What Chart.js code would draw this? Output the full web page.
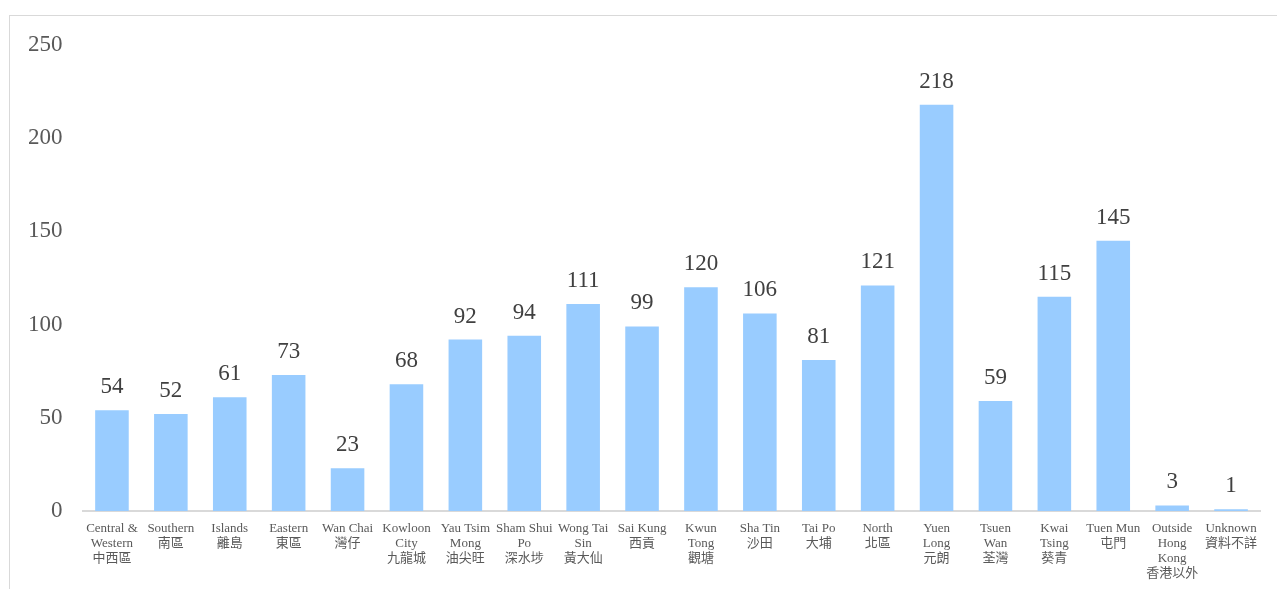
<!DOCTYPE html>
<html>
<head>
<meta charset="utf-8">
<script src="https://cdn.jsdelivr.net/npm/chart.js@4.4.1/dist/chart.umd.min.js"></script>
<style>
  html, body { margin: 0; padding: 0; background: #fff; overflow: hidden; }
  #frame { position: absolute; left: 9px; top: 15px; width: 1400px; height: 700px; border: 1px solid #d9d9d9; box-sizing: border-box; }
  #wrap { position: absolute; left: 0; top: 0; width: 1277px; height: 589px; }
</style>
</head>
<body>
<div id="frame"></div>
<div id="wrap"><canvas id="c" width="1277" height="589"></canvas></div>
<script>
const categoriesEn = [
  ["Central &", "Western"], ["Southern"], ["Islands"], ["Eastern"], ["Wan Chai"],
  ["Kowloon", "City"], ["Yau Tsim", "Mong"], ["Sham Shui", "Po"], ["Wong Tai", "Sin"], ["Sai Kung"],
  ["Kwun", "Tong"], ["Sha Tin"], ["Tai Po"], ["North"], ["Yuen", "Long"],
  ["Tsuen", "Wan"], ["Kwai", "Tsing"], ["Tuen Mun"], ["Outside", "Hong", "Kong"], ["Unknown"]
];
const categoriesZh = [
  "中西區", "南區", "離島", "東區", "灣仔",
  "九龍城", "油尖旺", "深水埗", "黃大仙", "西貢",
  "觀塘", "沙田", "大埔", "北區", "元朗",
  "荃灣", "葵青", "屯門", "香港以外", "資料不詳"
];
const cases = [54, 52, 61, 73, 23, 68, 92, 94, 111, 99, 120, 106, 81, 121, 218, 59, 115, 145, 3, 1];
const yTicks = [0, 50, 100, 150, 200, 250];

const labels = categoriesEn.map((en, i) => en.concat([categoriesZh[i]]));

const dataLabelPlugin = {
  id: 'dataLabels',
  afterDatasetsDraw(chart) {
    const ctx = chart.ctx;
    const meta = chart.getDatasetMeta(0);
    ctx.save();
    ctx.font = "23px 'Liberation Serif', 'Times New Roman', serif";
    ctx.fillStyle = '#404040';
    ctx.textAlign = 'center';
    ctx.textBaseline = 'alphabetic';
    meta.data.forEach((bar, i) => {
      ctx.fillText(String(cases[i]), bar.x, bar.y - 17);
    });
    ctx.restore();
  }
};

new Chart(document.getElementById('c'), {
  type: 'bar',
  data: {
    labels: labels,
    datasets: [{
      data: cases,
      backgroundColor: '#99ccff',
      borderWidth: 0,
      categoryPercentage: 1.0,
      barPercentage: 0.57
    }]
  },
  options: {
    responsive: false,
    animation: false,
    events: [],
    layout: { padding: { left: 0, right: 16.5, top: 45, bottom: 0 } },
    plugins: { legend: { display: false }, tooltip: { enabled: false } },
    scales: {
      x: {
        grid: { display: false, drawTicks: false },
        border: { display: true, color: '#d9d9d9', width: 2 },
        ticks: {
          autoSkip: false,
          maxRotation: 0,
          minRotation: 0,
          padding: 10,
          color: '#595959',
          font: { family: "'Liberation Serif', 'Noto Sans CJK TC', serif", size: 13, lineHeight: 1.15 }
        },
        afterFit(scale) { scale.height = 78; }
      },
      y: {
        min: 0, max: 250,
        afterBuildTicks(scale) { scale.ticks = yTicks.map(v => ({ value: v })); },
        grid: { display: false, drawTicks: false },
        border: { display: false },
        ticks: {
          padding: 20,
          color: '#595959',
          font: { family: "'Liberation Serif', 'Times New Roman', serif", size: 23 }
        },
        afterFit(scale) { scale.width = 82.5; }
      }
    }
  },
  plugins: [dataLabelPlugin]
});
</script>
</body>
</html>
